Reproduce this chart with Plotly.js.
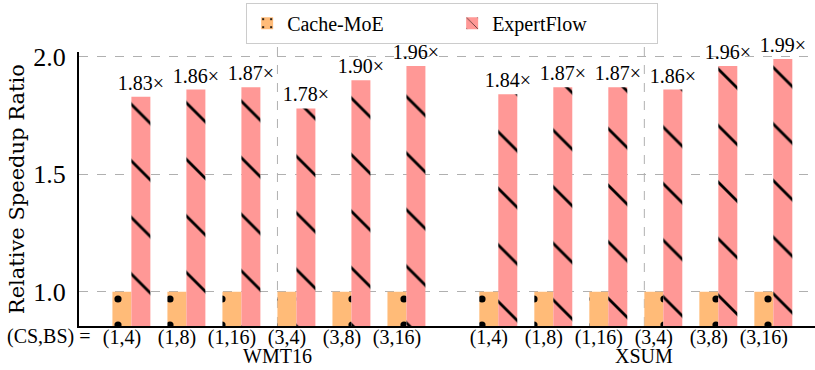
<!DOCTYPE html>
<html>
<head>
<meta charset="utf-8">
<script src="https://cdn.plot.ly/plotly-3.0.1.min.js"></script>
<style>
  html, body { margin: 0; padding: 0; background: white; }
</style>
</head>
<body>
<div id="plot" style="width:815px;height:370px"></div>
<script>
// configs (CS,BS) per dataset
const configs = ["(1,4)", "(1,8)", "(1,16)", "(3,4)", "(3,8)", "(3,16)"];
const datasets = ["WMT16", "XSUM"];

// relative speedup, Cache-MoE is the baseline
const cacheMoeWMT = [1, 1, 1, 1, 1, 1];
const cacheMoeXSUM = [1, 1, 1, 1, 1, 1];
const expertFlowWMT = [1.83, 1.86, 1.87, 1.78, 1.90, 1.96];
const expertFlowXSUM = [1.84, 1.87, 1.87, 1.86, 1.96, 1.99];

const w = 0.345;        // bar width
const groupShift = 6.67; // where the XSUM group starts

// x positions of the ticks
const pos = [];
configs.forEach((c, i) => pos.push(i));
configs.forEach((c, i) => pos.push(groupShift + i));
const tickText = configs.concat(configs);

const cacheVals = cacheMoeWMT.concat(cacheMoeXSUM);
const flowVals = expertFlowWMT.concat(expertFlowXSUM);

const traces = [
    {
        name: "Cache-MoE",
        type: "bar",
        x: pos,
        y: cacheVals,
        width: w,
        marker: {
            color: "#ffbb78",
            line: { width: 0 },
            pattern: { shape: ".", fgcolor: "black", bgcolor: "#ffbb78", fillmode: "replace", size: 26, solidity: 0.06 }
        },
        hoverinfo: "skip"
    },
    {
        name: "ExpertFlow",
        type: "bar",
        x: pos.map(p => p + w),
        y: flowVals,
        width: w,
        marker: {
            color: "#ff9896",
            line: { width: 0 },
            pattern: { shape: "\\", fgcolor: "black", bgcolor: "#ff9896", fillmode: "replace", size: 40, solidity: 0.07 }
        },
        texttemplate: "%{y:.2f}×",
        textposition: "outside",
        constraintext: "none",
        cliponaxis: false,
        textfont: { family: "Times New Roman", size: 20, color: "black" },
        hoverinfo: "skip"
    }
];

// dashed dividers between CS=1 and CS=3 in each group
const dividers = datasets.map((d, k) => ({
    type: "line",
    xref: "x", yref: "paper",
    x0: k * groupShift + 3 - w / 2, x1: k * groupShift + 3 - w / 2,
    y0: 0, y1: 1.02,
    line: { color: "#b0b0b0", width: 1, dash: "dash" },
    layer: "below"
}));

const annotations = datasets.map((d, k) => ({
    text: d,
    xref: "x", yref: "paper",
    x: k * groupShift + 3 - w / 2,
    y: -0.11,
    xanchor: "center", yanchor: "middle",
    showarrow: false,
    font: { family: "Liberation Serif", size: 20, color: "black" }
}));
annotations.push({
    text: "(CS,BS) =",
    xref: "paper", yref: "paper",
    x: -0.101, y: -0.04,
    xanchor: "left", yanchor: "middle",
    showarrow: false,
    font: { family: "Liberation Serif", size: 20, color: "black" }
});
annotations.push({
    text: "Relative Speedup Ratio",
    xref: "paper", yref: "paper",
    x: -0.084, y: 0.5,
    xanchor: "center", yanchor: "middle",
    textangle: -90,
    showarrow: false,
    font: { family: "DejaVu Serif", size: 21, color: "black" }
});

const layout = {
    width: 815,
    height: 370,
    margin: { l: 79, r: 0, t: 52, b: 44 },
    barmode: "overlay",
    font: { family: "Liberation Serif", size: 20 },
    legend: {
        orientation: "h",
        x: 0.507, xanchor: "center",
        y: 1.18, yanchor: "top",
        bordercolor: "#cccccc",
        borderwidth: 1,
        font: { family: "Liberation Serif", size: 20, color: "black" },
        entrywidth: 160
    },
    xaxis: {
        range: [-0.78, 12.6],
        tickvals: pos,
        ticktext: tickText,
        tickfont: { family: "Liberation Serif", size: 20, color: "black" },
        showgrid: false,
        zeroline: false,
        showline: true,
        linecolor: "black",
        linewidth: 2,
        ticks: "",
        ticklabelstandoff: -8
    },
    yaxis: {
        range: [0.854, 2.02],
        tickvals: [1.0, 1.5, 2.0],
        ticktext: ["1.0", "1.5", "2.0"],
        tickfont: { family: "Liberation Serif", size: 26, color: "black" },
        showgrid: true,
        gridcolor: "#b0b0b0",
        griddash: "dash",
        gridwidth: 1,
        zeroline: false,
        showline: true,
        linecolor: "black",
        linewidth: 2,
        ticks: "",
        ticklabelstandoff: 6
    },
    shapes: dividers,
    annotations: annotations
};

Plotly.newPlot("plot", traces, layout, { staticPlot: true });
</script>
</body>
</html>
